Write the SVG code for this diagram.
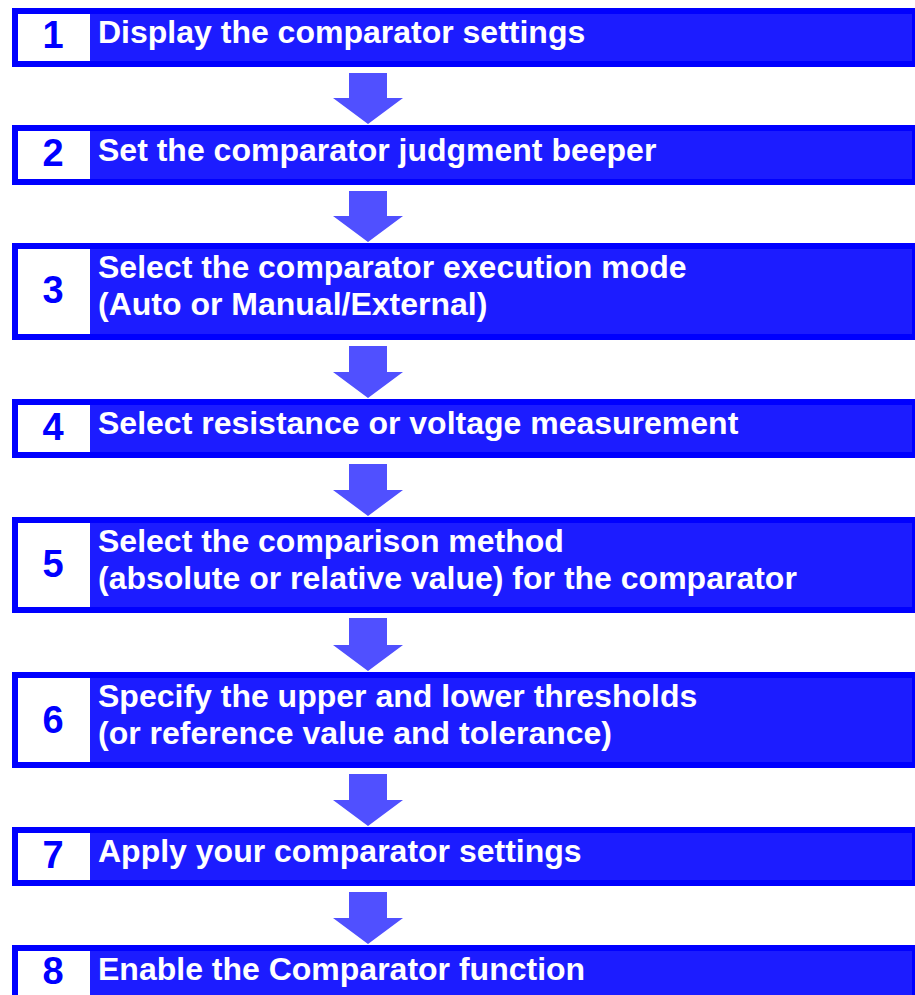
<svg xmlns="http://www.w3.org/2000/svg" width="915" height="995" viewBox="0 0 915 995">
<style>
.outer{fill:#0000ff}
.inner{fill:#1c1cff}
.num{fill:#ffffff}
.arrow{fill:#5050ff}
.lbl{font-family:"Liberation Sans",Arial,sans-serif;font-weight:bold;font-size:32px;fill:#ffffff}
.dig{font-family:"Liberation Sans",Arial,sans-serif;font-weight:bold;font-size:38px;fill:#0000ff;text-anchor:middle}
</style>
<rect width="915" height="995" fill="#ffffff"/>
<g id="connectors">
<polygon class="arrow" points="349,73 387,73 387,98 403,98 368,124 333,98 349,98"/>
<polygon class="arrow" points="349,191 387,191 387,216 403,216 368,242 333,216 349,216"/>
<polygon class="arrow" points="349,346 387,346 387,372 403,372 368,398 333,372 349,372"/>
<polygon class="arrow" points="349,464 387,464 387,490 403,490 368,516 333,490 349,490"/>
<polygon class="arrow" points="349,618 387,618 387,645 403,645 368,671 333,645 349,645"/>
<polygon class="arrow" points="349,774 387,774 387,800 403,800 368,826 333,800 349,800"/>
<polygon class="arrow" points="349,892 387,892 387,918 403,918 368,944 333,918 349,918"/>
</g>
<g id="step1">
<rect class="outer" x="12" y="8" width="906" height="59"/>
<rect class="inner" x="90" y="14" width="822" height="47"/>
<rect class="num" x="18" y="14" width="72" height="47"/>
<text class="dig" x="53" y="48">1</text>
<text class="lbl" x="98" y="43">Display the comparator settings</text>
</g>
<g id="step2">
<rect class="outer" x="12" y="125" width="906" height="60"/>
<rect class="inner" x="90" y="131" width="822" height="48"/>
<rect class="num" x="18" y="131" width="72" height="48"/>
<text class="dig" x="53" y="166">2</text>
<text class="lbl" x="98" y="161">Set the comparator judgment beeper</text>
</g>
<g id="step3">
<rect class="outer" x="12" y="243" width="906" height="97"/>
<rect class="inner" x="90" y="249" width="822" height="85"/>
<rect class="num" x="18" y="249" width="72" height="85"/>
<text class="dig" x="53" y="303">3</text>
<text class="lbl" x="98" y="278">Select the comparator execution mode</text>
<text class="lbl" x="98" y="315">(Auto or Manual/External)</text>
</g>
<g id="step4">
<rect class="outer" x="12" y="399" width="906" height="59"/>
<rect class="inner" x="90" y="405" width="822" height="47"/>
<rect class="num" x="18" y="405" width="72" height="47"/>
<text class="dig" x="53" y="440">4</text>
<text class="lbl" x="98" y="433.5">Select resistance or voltage measurement</text>
</g>
<g id="step5">
<rect class="outer" x="12" y="517" width="906" height="96"/>
<rect class="inner" x="90" y="523" width="822" height="84"/>
<rect class="num" x="18" y="523" width="72" height="84"/>
<text class="dig" x="53" y="577">5</text>
<text class="lbl" x="98" y="552">Select the comparison method</text>
<text class="lbl" x="98" y="589">(absolute or relative value) for the comparator</text>
</g>
<g id="step6">
<rect class="outer" x="12" y="672" width="906" height="96"/>
<rect class="inner" x="90" y="678" width="822" height="84"/>
<rect class="num" x="18" y="678" width="72" height="84"/>
<text class="dig" x="53" y="732.5">6</text>
<text class="lbl" x="98" y="707">Specify the upper and lower thresholds</text>
<text class="lbl" x="98" y="744">(or reference value and tolerance)</text>
</g>
<g id="step7">
<rect class="outer" x="12" y="827" width="906" height="59"/>
<rect class="inner" x="90" y="833" width="822" height="47"/>
<rect class="num" x="18" y="833" width="72" height="47"/>
<text class="dig" x="53" y="867.5">7</text>
<text class="lbl" x="98" y="862">Apply your comparator settings</text>
</g>
<g id="step8">
<rect class="outer" x="12" y="945" width="906" height="60"/>
<rect class="inner" x="90" y="951" width="822" height="48"/>
<rect class="num" x="18" y="951" width="72" height="48"/>
<text class="dig" x="53" y="984">8</text>
<text class="lbl" x="98" y="980">Enable the Comparator function</text>
</g>
</svg>
